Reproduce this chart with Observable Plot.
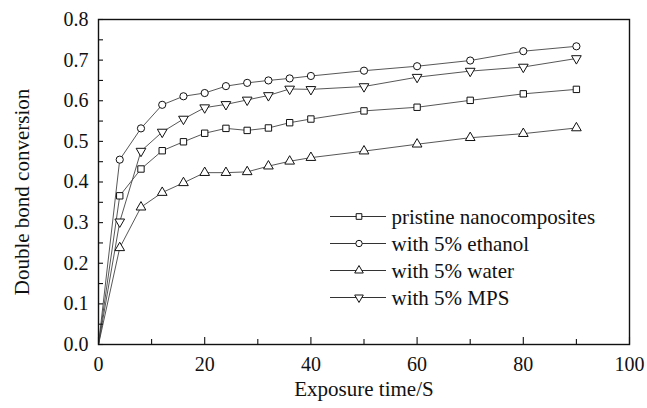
<!DOCTYPE html>
<html><head><meta charset="utf-8">
<script src="https://cdn.jsdelivr.net/npm/d3@7"></script>
<script src="https://cdn.jsdelivr.net/npm/@observablehq/plot@0.6"></script>
<style>
body{margin:0;background:#fff}
#chart{width:647px;height:408px}
</style>
</head><body><div id="chart"></div>
<script>
// ---- data ----
const time = [0, 4, 8, 12, 16, 20, 24, 28, 32, 36, 40, 50, 60, 70, 80, 90];
const seriesNames = ["pristine nanocomposites", "with 5% ethanol", "with 5% water", "with 5% MPS"];
const pristine = [0, 0.366, 0.432, 0.477, 0.499, 0.520, 0.532, 0.527, 0.533, 0.546, 0.555, 0.575, 0.584, 0.601, 0.617, 0.628];
const ethanol  = [0, 0.455, 0.532, 0.590, 0.611, 0.619, 0.636, 0.644, 0.650, 0.655, 0.661, 0.674, 0.685, 0.699, 0.722, 0.734];
const water    = [0, 0.238, 0.338, 0.374, 0.398, 0.423, 0.423, 0.425, 0.439, 0.451, 0.460, 0.476, 0.493, 0.509, 0.519, 0.533];
const mps      = [0, 0.302, 0.476, 0.523, 0.555, 0.583, 0.591, 0.602, 0.613, 0.629, 0.628, 0.635, 0.658, 0.673, 0.683, 0.704];
const seriesValues = [pristine, ethanol, water, mps];
const symbols = ["square", "circle", "triangle", "triangle"];
const rotations = [0, 0, 0, 180];
const xTickLabels = [0, 20, 40, 60, 80, 100];
const xMinorTicks = [10, 30, 50, 70, 90];
const yTickLabels = [0, 0.1, 0.2, 0.3, 0.4, 0.5, 0.6, 0.7, 0.8];
const yMinorTicks = [0.05, 0.15, 0.25, 0.35, 0.45, 0.55, 0.65, 0.75];
const xLabel = "Exposure time/S";
const yLabel = "Double bond conversion";

// ---- layout ----
const W = 647, H = 408;
const mL = 98, mR = 18, mT = 19, mB = 64;
const innerW = W - mL - mR, innerH = H - mT - mB;
const serif = "Liberation Serif, Times New Roman, serif";
const R = 3.6;
// legend placement (pixels, relative to the plot frame's top-left corner)
const legDX = 232, legDY = 197.5, legStep = 27;

const rows = seriesNames.flatMap((name, i) => time.map((t, j) => ({t, v: seriesValues[i][j], s: name})));

const dotMarks = seriesNames.map((name, i) =>
  Plot.dot(rows.filter(d => d.s === name && d.t > 0), {
    x: "t", y: "v", symbol: () => symbols[i], r: R, rotate: rotations[i],
    stroke: "#111", fill: "white", strokeWidth: 1
  })
);

const legendTextMarks = seriesNames.map((name, i) =>
  Plot.text([name], {
    text: d => d, frameAnchor: "top-left", textAnchor: "start", lineAnchor: "middle",
    dx: legDX + 61, dy: legDY + i * legStep, fontSize: 21, fill: "#111"
  })
);

const plot = Plot.plot({
  width: W, height: H,
  marginLeft: mL, marginRight: mR, marginTop: mT, marginBottom: mB,
  style: {fontFamily: serif, background: "white", color: "#111", overflow: "visible"},
  x: {domain: [0, 100]},
  y: {domain: [0, 0.8]},
  symbol: {type: "identity"},
  marks: [
    Plot.line(rows, {x: "t", y: "v", z: "s", stroke: "#444", strokeWidth: 0.9}),
    ...dotMarks,
    Plot.tickX(xTickLabels, {x: d => d, insetTop: innerH - 7, stroke: "#111", strokeWidth: 1.1}),
    Plot.tickX(xMinorTicks, {x: d => d, insetTop: innerH - 5, stroke: "#111", strokeWidth: 1.1}),
    Plot.tickY(yTickLabels, {y: d => d, insetRight: innerW - 5, stroke: "#111", strokeWidth: 1.1}),
    Plot.tickY(yMinorTicks, {y: d => d, insetRight: innerW - 5, stroke: "#111", strokeWidth: 1.1}),
    Plot.axisX(xTickLabels, {tickSize: 0, tickPadding: 12, fontSize: 20, label: null, tickFormat: d => String(d)}),
    Plot.axisY(yTickLabels, {tickSize: 0, tickPadding: 10, fontSize: 20, label: null, tickFormat: d3.format(".1f")}),
    Plot.frame({stroke: "#111", strokeWidth: 1.4}),
    Plot.text([xLabel], {text: d => d, frameAnchor: "bottom", dy: 51, fontSize: 21, fill: "#111", textAnchor: "middle"}),
    Plot.text([yLabel], {text: d => d, frameAnchor: "left", dx: -76, dy: 10, rotate: -90, fontSize: 21, fill: "#111", textAnchor: "middle"}),
    ...legendTextMarks
  ]
});

// ---- legend line + symbol samples ----
const svg = d3.select(plot);
const lg = svg.append("g");
const legX = mL + legDX, legY = mT + legDY;
seriesNames.forEach((name, i) => {
  const y = legY + i * legStep;
  lg.append("line").attr("x1", legX).attr("x2", legX + 56).attr("y1", y).attr("y2", y)
    .attr("stroke", "#333").attr("stroke-width", 1);
  const sym = {square: d3.symbolSquare, circle: d3.symbolCircle, triangle: d3.symbolTriangle}[symbols[i]];
  lg.append("path").attr("d", d3.symbol(sym, 3.2 * 3.2 * Math.PI)())
    .attr("transform", `translate(${legX + 29},${y}) rotate(${rotations[i]})`)
    .attr("fill", "white").attr("stroke", "#111").attr("stroke-width", 1);
});

document.getElementById("chart").append(plot);
</script>
</body></html>
